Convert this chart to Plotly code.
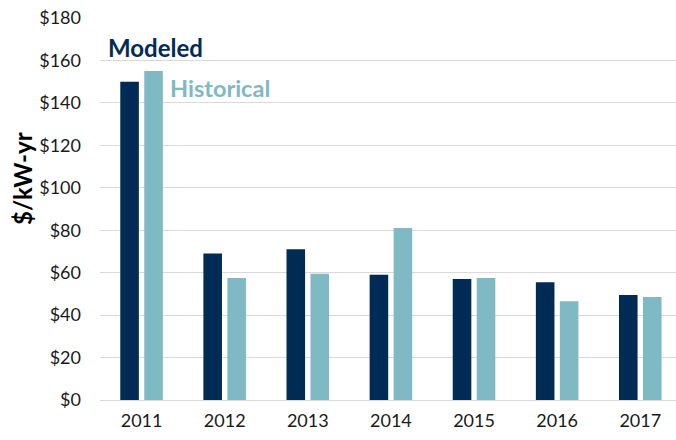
import plotly.graph_objects as go

years = ["2011", "2012", "2013", "2014", "2015", "2016", "2017"]
modeled = [150, 69, 71, 59, 57, 55.5, 49.5]
historical = [155, 57.5, 59.5, 81, 57.5, 46.5, 48.5]
y_ticks = [0, 20, 40, 60, 80, 100, 120, 140, 160, 180]
y_tick_labels = ["$" + str(v) for v in y_ticks]

NAVY = "#002B55"
TEAL = "#7FB9C3"
FONT = "Lato"

fig = go.Figure()
fig.add_trace(go.Bar(x=years, y=modeled, name="Modeled", marker=dict(color=NAVY, line=dict(width=0))))
fig.add_trace(go.Bar(x=years, y=historical, name="Historical", marker=dict(color=TEAL, line=dict(width=0))))

fig.update_layout(
    width=676, height=440,
    margin=dict(l=100, r=0, t=18, b=40),
    barmode="group", bargap=0.423, bargroupgap=0.225,
    plot_bgcolor="white", paper_bgcolor="white",
    showlegend=False,
    font=dict(family=FONT, size=18, color="#1a1a1a"),
)
fig.update_xaxes(
    type="category", range=[-0.5, 6.43], automargin=False,
    showgrid=False, showline=False, zeroline=False,
    ticks="", ticklabelstandoff=8,
    tickfont=dict(family=FONT, size=18, color="#1a1a1a"),
)
fig.update_yaxes(
    range=[0, 180], tickvals=y_ticks, ticktext=y_tick_labels, automargin=False,
    showgrid=True, gridcolor="#D9D9D9", gridwidth=1,
    zeroline=True, zerolinecolor="#D9D9D9", zerolinewidth=1,
    showline=False, ticks="", ticklabelstandoff=18,
    tickfont=dict(family=FONT, size=18, color="#1a1a1a"),
)

def px_x(p):
    return (p - 100) / 576.0

def px_y(p):
    return (400 - p) / 382.0

fig.add_annotation(text="<b>Modeled</b>", xref="paper", yref="paper",
                   x=px_x(106), y=px_y(47), xanchor="left", yanchor="middle",
                   showarrow=False, font=dict(family=FONT, size=24, color=NAVY))
fig.add_annotation(text="<b>Historical</b>", xref="paper", yref="paper",
                   x=px_x(168), y=px_y(88), xanchor="left", yanchor="middle",
                   showarrow=False, font=dict(family=FONT, size=23.5, color=TEAL))
fig.add_annotation(text="<b>$/kW-yr</b>", xref="paper", yref="paper",
                   x=px_x(22), y=px_y(179), xanchor="center", yanchor="middle",
                   textangle=-90, showarrow=False,
                   font=dict(family=FONT, size=24, color="#000000"))

fig.write_html(
    "out.html",
    config={"displayModeBar": False},
    post_script="document.body.style.margin='0';document.body.style.overflow='hidden';",
)
